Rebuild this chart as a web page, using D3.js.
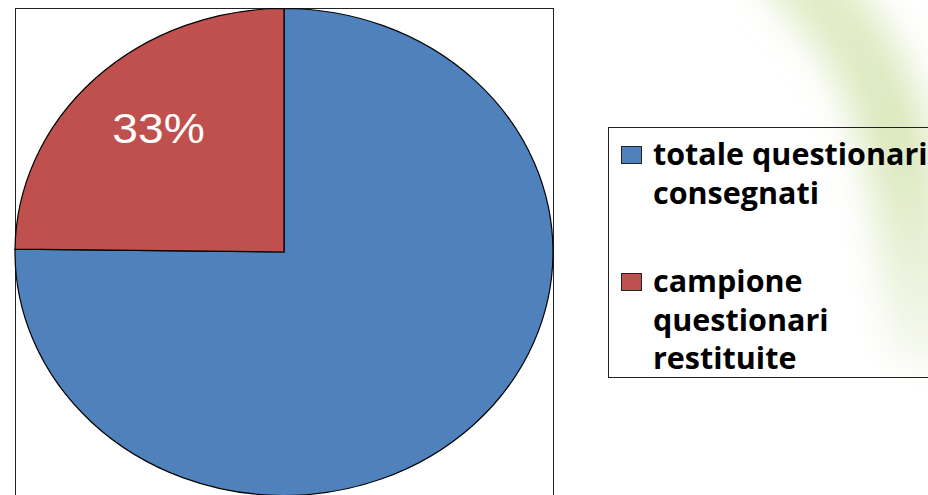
<!DOCTYPE html>
<html>
<head>
<meta charset="utf-8">
<script src="https://cdn.jsdelivr.net/npm/d3@7"></script>
<style>
  html, body { margin: 0; padding: 0; background: #fff; overflow: hidden; }
  svg { display: block; }
</style>
</head>
<body>
<svg id="chart" width="928" height="495"></svg>
<script>
// data
const categories = ["totale questionari consegnati", "campione questionari restituite"]
const values = [303, 100]
const sliceLabels = ["", "33%"]
const legendLines = [["totale questionari", "consegnati"], ["campione", "questionari", "restituite"]]
const colors = ["#4f81bd", "#c0504d"]

const svg = d3.select("#chart")
const defs = svg.append("defs")

// soft green decoration behind the legend
defs.append("filter").attr("id", "blur")
    .attr("x", "-50%").attr("y", "-50%").attr("width", "200%").attr("height", "200%")
    .append("feGaussianBlur").attr("stdDeviation", 18)

const grad = defs.append("linearGradient").attr("id", "fade")
    .attr("x1", 0).attr("y1", 0).attr("x2", 0).attr("y2", 1)
grad.append("stop").attr("offset", "0%").attr("stop-color", "#e2ecc8")
grad.append("stop").attr("offset", "50%").attr("stop-color", "#dbe8bd")
grad.append("stop").attr("offset", "100%").attr("stop-color", "#f2f6e8")

const deco = svg.append("g").attr("filter", "url(#blur)")
deco.append("path")
    .attr("d", d3.line().curve(d3.curveBasis)([[795, -30], [860, 40], [898, 130], [912, 230], [922, 330]]))
    .attr("fill", "none")
    .attr("stroke", "url(#fade)")
    .attr("stroke-width", 70)
    .attr("stroke-linecap", "round")

// plot area
const box = { x: 15, y: 8, w: 538, h: 500 }
svg.append("rect")
    .attr("x", box.x + 0.5).attr("y", box.y + 0.5)
    .attr("width", box.w).attr("height", box.h)
    .attr("fill", "#fff").attr("stroke", "#222").attr("stroke-width", 1)

const cx = 284, cy = 252, rx = 269, ry = 243.5

const pie = d3.pie().sort(null).value(d => d)
const arcs = pie(values)
const arc = d3.arc().innerRadius(0).outerRadius(1)
const labelArc = d3.arc().innerRadius(0.38).outerRadius(1)

const g = svg.append("g").attr("transform", `translate(${cx},${cy}) scale(${rx},${ry})`)
g.selectAll("path.slice")
    .data(arcs)
    .join("path")
    .attr("class", "slice")
    .attr("d", arc)
    .attr("fill", (d, i) => colors[i])
    .attr("stroke", "#000")
    .attr("stroke-width", 1.2)
    .attr("vector-effect", "non-scaling-stroke")

// picture is stretched a little horizontally, so the label is too
const fs = 42
svg.append("g").selectAll("text")
    .data(arcs)
    .join("text")
    .attr("transform", d => {
        const [x, y] = labelArc.centroid(d)
        return `translate(${cx + x * rx + 5},${cy + y * ry - 5}) scale(1.1,1)`
    })
    .attr("y", fs * 0.36)
    .attr("text-anchor", "middle")
    .attr("font-family", "'Liberation Sans', Arial, sans-serif")
    .attr("font-size", fs)
    .attr("fill", "#fff")
    .text((d, i) => sliceLabels[i])

// legend
const legend = svg.append("g")
legend.append("rect")
    .attr("x", 608.5).attr("y", 127.5).attr("width", 340).attr("height", 250)
    .attr("fill", "none").attr("stroke", "#222").attr("stroke-width", 1)

const lineH = 38.5
const entryTop = [165, 292]
const items = legend.selectAll("g.item")
    .data(categories)
    .join("g")
    .attr("class", "item")

items.append("rect")
    .attr("x", 621.5).attr("y", (d, i) => entryTop[i] - 18.5)
    .attr("width", 20).attr("height", 17)
    .attr("fill", (d, i) => colors[i])
    .attr("stroke", "#222").attr("stroke-width", 1)

items.append("text")
    .attr("font-family", "'Open Sans', 'Noto Sans', sans-serif")
    .attr("font-weight", "bold")
    .attr("font-size", 30.5)
    .attr("fill", "#000")
    .selectAll("tspan")
    .data((d, i) => legendLines[i].map((t, j) => ({ t, y: entryTop[i] + j * lineH })))
    .join("tspan")
    .attr("x", 653)
    .attr("y", d => d.y)
    .text(d => d.t)
</script>
</body>
</html>
